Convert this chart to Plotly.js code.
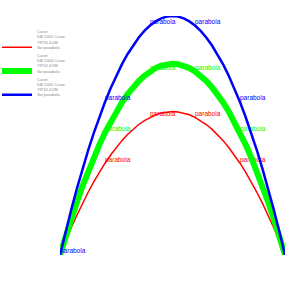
<!DOCTYPE html>
<html><head><meta charset="utf-8">
<script src="https://cdn.plot.ly/plotly-3.0.1.min.js"></script>
<style>html,body{margin:0;padding:0;background:#fff}#chart{width:300px;height:300px}</style>
</head><body><div id="chart"></div>
<script>
const xs = [-1,-0.95,-0.9,-0.85,-0.8,-0.75,-0.7,-0.65,-0.6,-0.55,-0.5,-0.45,-0.4,-0.35,-0.3,-0.25,-0.2,-0.15,-0.1,-0.05,0,0.05,0.1,0.15,0.2,0.25,0.3,0.35,0.4,0.45,0.5,0.55,0.6,0.65,0.7,0.75,0.8,0.85,0.9,0.95,1];
const redY = [0,0.2925,0.57,0.8325,1.08,1.3125,1.53,1.7325,1.92,2.0925,2.25,2.3925,2.52,2.6325,2.73,2.8125,2.88,2.9325,2.97,2.9925,3,2.9925,2.97,2.9325,2.88,2.8125,2.73,2.6325,2.52,2.3925,2.25,2.0925,1.92,1.7325,1.53,1.3125,1.08,0.8325,0.57,0.2925,0];
const greenY = [0,0.39,0.76,1.11,1.44,1.75,2.04,2.31,2.56,2.79,3,3.19,3.36,3.51,3.64,3.75,3.84,3.91,3.96,3.99,4,3.99,3.96,3.91,3.84,3.75,3.64,3.51,3.36,3.19,3,2.79,2.56,2.31,2.04,1.75,1.44,1.11,0.76,0.39,0];
const blueY = [0,0.4875,0.95,1.3875,1.8,2.1875,2.55,2.8875,3.2,3.4875,3.75,3.9875,4.2,4.3875,4.55,4.6875,4.8,4.8875,4.95,4.9875,5,4.9875,4.95,4.8875,4.8,4.6875,4.55,4.3875,4.2,3.9875,3.75,3.4875,3.2,2.8875,2.55,2.1875,1.8,1.3875,0.95,0.4875,0];
const L = 'parabola';
const labelX = [-0.6, -0.2, 0.2, 0.6];
const blueLabelX = [-1, -0.6, -0.2, 0.2, 0.6];
const names = [
  'Curve<br>DB C001 Curve<br>TIP16-4.0M<br>Var:parabolic',
  'Curve<br>DB C004 Curve<br>TIP16-4.5M<br>Var:parabolic',
  'Curve<br>DB C005 Curve<br>TIP16-4.5M<br>Var:parabolic'
];
const colors = ['#ff0000','#00ff00','#0000ff'];
const widths = [1.5,6,2.5];
const ys = [redY, greenY, blueY];
const labelSets = [labelX, labelX, blueLabelX];
const data = ys.map((y,i)=>({
  x: xs, y: y, type:'scatter', mode:'lines+text', name: names[i],
  text: xs.map(v => labelSets[i].some(l => Math.abs(l - v) < 1e-9) ? L : ''),
  textposition:'top right',
  textfont:{size:6.5, color:colors[i], family:'Liberation Sans, Arial'},
  line:{color:colors[i], width:widths[i]}, cliponaxis:false
}));
const layout = {
  width:300, height:300, margin:{l:60,r:15,t:16,b:45,autoexpand:false},
  paper_bgcolor:'#fff', plot_bgcolor:'#fff',
  showlegend:true,
  legend:{xref:'paper', yref:'container', x:-0.28, xanchor:'left', y:0.925, yanchor:'top', bgcolor:'rgba(0,0,0,0)',
    font:{size:4, color:'#888', family:'Liberation Sans, Arial'}, valign:'bottom', itemwidth:30},
  xaxis:{range:[-1,1], showgrid:false, zeroline:false, showticklabels:false, showline:false, ticks:''},
  yaxis:{range:[0,5], showgrid:false, zeroline:false, showticklabels:false, showline:false, ticks:''}
};
Plotly.newPlot('chart', data, layout, {displayModeBar:false, staticPlot:true});
</script></body></html>
